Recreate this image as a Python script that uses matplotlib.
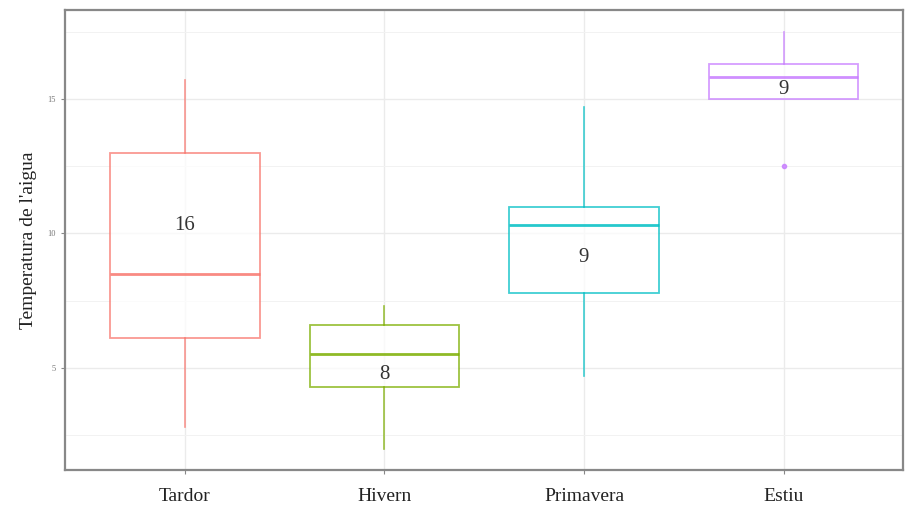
import numpy as np
import matplotlib.pyplot as plt

# temperatura de l'aigua per estació
estacions = ['Tardor', 'Hivern', 'Primavera', 'Estiu']
colors = ['#F8766D', '#7CAE00', '#00BFC4', '#C77CFF']
whislo = [2.8, 2.0, 4.7, 15.0]
q1 = [6.1, 4.3, 7.8, 15.0]
med = [8.5, 5.5, 10.3, 15.8]
q3 = [13.0, 6.6, 11.0, 16.3]
whishi = [15.7, 7.3, 14.7, 17.5]
fliers = [[], [], [], [12.5]]
n_obs = [16, 8, 9, 9]
label_y = [10.3, 4.75, 9.1, 15.35]

plt.rcParams['font.family'] = ['Liberation Serif', 'DejaVu Serif']

fig = plt.figure(figsize=(9.06, 5.12), dpi=100)
ax = fig.add_axes([0.072, 0.082, 0.925, 0.898])

pos = np.arange(1, len(estacions) + 1)
for i, p in enumerate(pos):
    stats = [dict(med=med[i], q1=q1[i], q3=q3[i], whislo=whislo[i],
                  whishi=whishi[i], fliers=fliers[i])]
    c = colors[i]
    ax.bxp(stats, positions=[p], widths=0.75, showcaps=False, patch_artist=True,
           boxprops=dict(facecolor='white', edgecolor=c, linewidth=1.3, alpha=0.75),
           medianprops=dict(color=c, linewidth=2.0, alpha=0.85),
           whiskerprops=dict(color=c, linewidth=1.2, alpha=0.75),
           flierprops=dict(marker='o', markersize=3, markerfacecolor=c,
                           markeredgecolor=c, alpha=0.8),
           zorder=3)
    ax.text(p, label_y[i], str(n_obs[i]), ha='center', va='center',
            fontsize=15, color='#333333', zorder=4)

ax.set_xlim(0.4, 4.6)
ax.set_ylim(1.2, 18.3)
ax.set_xticks(pos)
ax.set_xticklabels(estacions, fontsize=14, color='#222222')
ax.set_yticks([5, 10, 15])
ax.set_yticklabels(['5', '10', '15'], fontsize=6, color='#777777')
ax.set_yticks([2.5, 7.5, 12.5, 17.5], minor=True)
ax.tick_params(axis='both', which='major', length=3, color='#888888')
ax.tick_params(axis='x', which='major', pad=10)
ax.tick_params(axis='y', which='minor', length=0)
ax.set_ylabel("Temperatura de l'aigua", fontsize=14, color='#222222', labelpad=8)

ax.grid(True, which='major', color='#EBEBEB', linewidth=1.0, zorder=0)
ax.grid(True, which='minor', axis='y', color='#F2F2F2', linewidth=0.7, zorder=0)
ax.set_axisbelow(True)
for s in ax.spines.values():
    s.set_color('#888888')
    s.set_linewidth(1.6)

fig.savefig('out.png', dpi=100)
